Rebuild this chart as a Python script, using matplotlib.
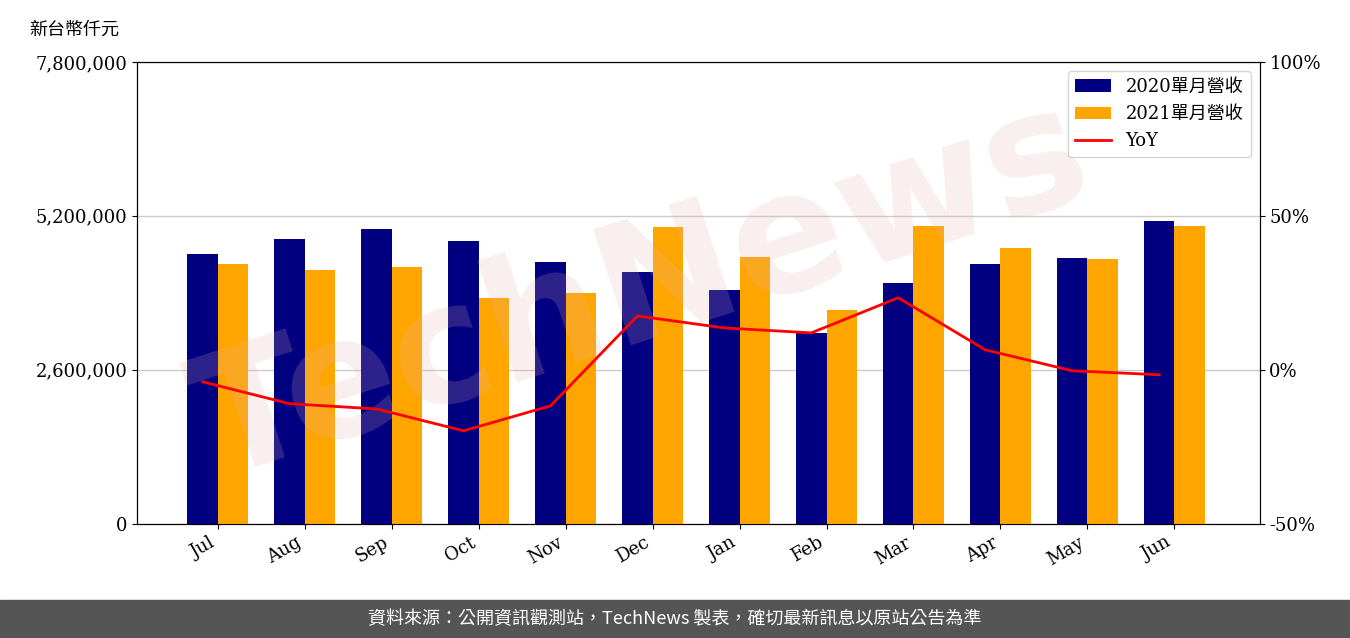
import matplotlib
matplotlib.use("Agg")
import matplotlib.pyplot as plt
import numpy as np

months = ["Jul","Aug","Sep","Oct","Nov","Dec","Jan","Feb","Mar","Apr","May","Jun"]
rev2020 = [4558000,4812000,4980000,4778000,4423000,4255000,3951000,3225000,4069000,4390000,4491000,5116000]
rev2021 = [4390000,4288000,4339000,3816000,3900000,5014000,4508000,3613000,5031000,4660000,4474000,5031000]
yoy = [-3.9,-11.0,-12.7,-19.8,-11.7,17.5,13.6,12.0,23.4,6.5,-0.3,-1.6]

fam = ['DejaVu Serif','Noto Sans CJK TC']
plt.rcParams['font.family'] = fam

fig = plt.figure(figsize=(13.5,6.38), dpi=100)
ax = fig.add_axes([0.1015,0.179,0.8315,0.724])
x = np.arange(len(months))
w = 0.35
ax.bar(x-w/2, rev2020, w, color='#000080', label='2020單月營收', zorder=3)
ax.bar(x+w/2, rev2021, w, color='#FFA500', label='2021單月營收', zorder=3)
ax.set_ylim(0,7800000)
ax.set_yticks([0,2600000,5200000,7800000])
ax.set_yticklabels(['0','2,600,000','5,200,000','7,800,000'], fontsize=13)
ax.grid(axis='y', color='#cccccc', lw=1, zorder=0)
ax.set_axisbelow(True)
ax.set_xlim(-0.93,11.98)
ax.set_xticks(x)
ax.set_xticklabels(months, rotation=30, ha='right', fontsize=13)
ax.text(0.45,0.5,'TechNews', transform=ax.transAxes, fontsize=120, color='#e8b0b0', alpha=0.2,
        rotation=18, ha='center', va='center', family='DejaVu Sans', fontweight='bold', zorder=5)
ax2 = ax.twinx()
ln, = ax2.plot(x-w/2, yoy, color='red', lw=2, label='YoY', zorder=4)
ax2.set_ylim(-50,100)
ax2.set_yticks([-50,0,50,100])
ax2.set_yticklabels(['-50%','0%','50%','100%'], fontsize=13)
h1,l1 = ax.get_legend_handles_labels()
ax2.legend(h1+[ln], l1+['YoY'], loc='upper right', fontsize=13, framealpha=0.8)
fig.text(0.022,0.945,'新台幣仟元', fontsize=13)
fig.patches.append(matplotlib.patches.Rectangle((0,0),1,0.06,transform=fig.transFigure,color='#555555'))
fig.text(0.5,0.03,'資料來源：公開資訊觀測站，TechNews 製表，確切最新訊息以原站公告為準', color='white',
         fontsize=13, ha='center', va='center', family=['Noto Sans CJK TC','DejaVu Sans'])
fig.savefig('out.png')
